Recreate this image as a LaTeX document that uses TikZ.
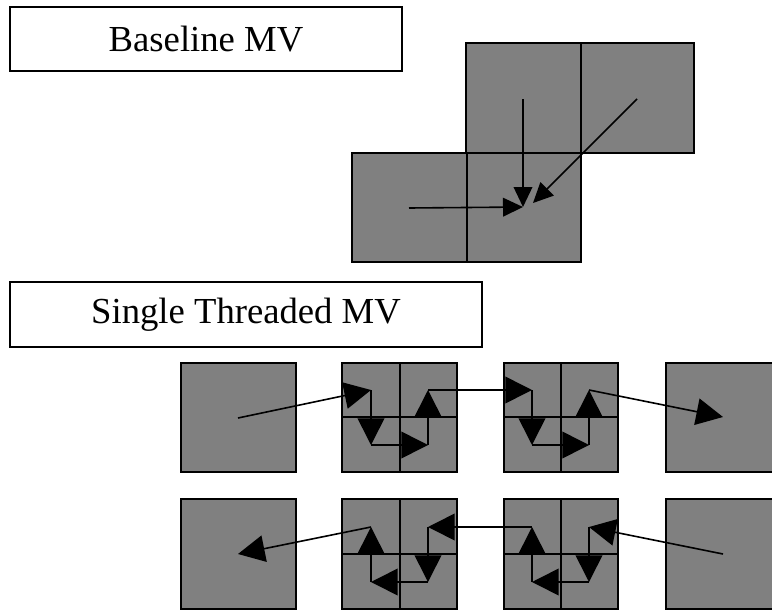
\documentclass[tikz,border=0pt]{standalone}
\usepackage{fontspec}
\setmainfont{Liberation Serif}
\usepackage{xcolor}
\usepackage{tikz}
\usetikzlibrary{arrows.meta}
\definecolor{blockgray}{RGB}{128,128,128}
\tikzset{
	block/.style={draw=black,fill=blockgray,line width=1.2pt},
	grid/.style={draw=black,line width=1.2pt},
	title/.style={draw=black,line width=1.2pt,inner sep=0pt,font=\fontsize{27.5}{30}\selectfont},
	mv/.style={line width=1.2pt,-{Triangle[length=15pt,width=14pt]}},
	mvstep/.style={line width=1.2pt,-{Triangle[length=20pt,width=20pt]}}
}

\begin{document}
\begin{tikzpicture}[x=0.75pt,y=-0.75pt]
		\useasboundingbox (0,0) rectangle (772,611);
		% labels
		\node[title,minimum width=294pt,minimum height=48pt] (base) at (206,39) {Baseline MV};
		\node[title,minimum width=354pt,minimum height=49pt] (single) at (246,314.5) {Single Threaded MV};
		% baseline blocks
		\draw[block] (466,43) rectangle (581,153);
		\draw[block] (581,43) rectangle (694,153);
		\draw[block] (352,153) rectangle (467,262);
		\draw[block] (467,153) rectangle (581,262);
		\coordinate (up) at (523,99);
		\coordinate (upright) at (637,99);
		\coordinate (left) at (409,208);
		\coordinate (cur) at (523,207);
		\coordinate (curdiag) at (533,203);
		\draw[mv] (up) -- (cur);
		\draw[mv] (upright) -- (curdiag);
		\draw[mv] (left) -- (cur);
		% single threaded, first row
		\draw[block] (181,363) rectangle (296,472);
		\draw[block] (342,363) rectangle (457,472);
		\draw[grid] (400,363) -- (400,472) (342,417) -- (457,417);
		\draw[block] (504,363) rectangle (618,472);
		\draw[grid] (561,363) -- (561,472) (504,417) -- (618,417);
		\draw[block] (666,363) rectangle (781,472);
		\coordinate (c1) at (238,418);
		\coordinate (a2) at (371,390);
		\coordinate (b2) at (371,445);
		\coordinate (e2) at (428,445);
		\coordinate (d2) at (428,390);
		\coordinate (a3) at (532,390);
		\coordinate (b3) at (532,445);
		\coordinate (e3) at (589,445);
		\coordinate (d3) at (589,390);
		\coordinate (c4) at (723,417);
		\draw[mvstep] (c1) -- (a2);
		\draw[mvstep] (a2) -- (b2);
		\draw[mvstep] (b2) -- (e2);
		\draw[mvstep] (e2) -- (d2);
		\draw[mvstep] (d2) -- (a3);
		\draw[mvstep] (a3) -- (b3);
		\draw[mvstep] (b3) -- (e3);
		\draw[mvstep] (e3) -- (d3);
		\draw[mvstep] (d3) -- (c4);
		% single threaded, second row
		\draw[block] (181,499) rectangle (296,609);
		\draw[block] (342,499) rectangle (457,609);
		\draw[grid] (400,499) -- (400,609) (342,554) -- (457,554);
		\draw[block] (504,499) rectangle (618,609);
		\draw[grid] (561,499) -- (561,609) (504,554) -- (618,554);
		\draw[block] (666,499) rectangle (781,609);
		\coordinate (c1r) at (238,554);
		\coordinate (a2r) at (371,527);
		\coordinate (b2r) at (371,582);
		\coordinate (e2r) at (428,582);
		\coordinate (d2r) at (428,527);
		\coordinate (a3r) at (532,527);
		\coordinate (b3r) at (532,582);
		\coordinate (e3r) at (589,582);
		\coordinate (d3r) at (589,527);
		\coordinate (c4r) at (723,554);
		\draw[mvstep] (c4r) -- (d3r);
		\draw[mvstep] (d3r) -- (e3r);
		\draw[mvstep] (e3r) -- (b3r);
		\draw[mvstep] (b3r) -- (a3r);
		\draw[mvstep] (a3r) -- (d2r);
		\draw[mvstep] (d2r) -- (e2r);
		\draw[mvstep] (e2r) -- (b2r);
		\draw[mvstep] (b2r) -- (a2r);
		\draw[mvstep] (a2r) -- (c1r);
	\end{tikzpicture}
\end{document}
